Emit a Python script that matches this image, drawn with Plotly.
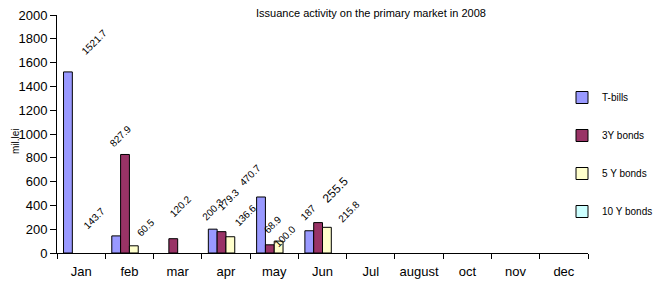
import plotly.graph_objects as go

# ---- data ----
months = ["Jan", "feb", "mar", "apr", "may", "Jun", "Jul", "august", "oct", "nov", "dec"]
series_names = ["T-bills", "3Y bonds", "5 Y bonds", "10 Y bonds"]
tbills = [1521.7, 143.7, None, 200.3, 470.7, 187, None, None, None, None, None]
bonds_3y = [None, 827.9, 120.2, 179.3, 68.9, 255.5, None, None, None, None, None]
bonds_5y = [None, 60.5, None, 136.6, 100.0, 215.8, None, None, None, None, None]
bonds_10y = [None, None, None, None, None, None, None, None, None, None, None]
tbills_text = ["1521.7", "143.7", None, "200.3", "470.7", "187", None, None, None, None, None]
bonds_3y_text = [None, "827.9", "120.2", "179.3", "68.9", "255.5", None, None, None, None, None]
bonds_5y_text = [None, "60.5", None, "136.6", "100.0", "215.8", None, None, None, None, None]
bonds_10y_text = [None] * 11
y_ticks = list(range(0, 2001, 200))

# ---- style ----
colors = ["#9999FF", "#993366", "#FFFFCC", "#CCFFFF"]
FONT = "Arial, Liberation Sans, sans-serif"
BARGAP = 0.27
OFF = 8  # default page body margin
W, H = 664 - OFF, 285 - OFF
# label offsets (pixels) relative to the top centre of each bar: (dx, dy-up, size)
label_style = {
    (0, 0): (27, 30, 10), (0, 1): (-22, 17, 10), (1, 1): (-5, 18, 10), (2, 1): (12, 18, 10),
    (1, 2): (7, 32, 10), (0, 3): (0, 20, 10), (1, 3): (7, 32, 10), (2, 3): (15, 21, 10),
    (0, 4): (-11, 21, 10), (1, 4): (3, 20, 10), (2, 4): (6, 5, 10),
    (0, 5): (-1, 18, 10), (1, 5): (17, 33, 12), (2, 5): (22, 16, 10),
}

values = [tbills, bonds_3y, bonds_5y, bonds_10y]
texts = [tbills_text, bonds_3y_text, bonds_5y_text, bonds_10y_text]

fig = go.Figure()
for i, (name, vals) in enumerate(zip(series_names, values)):
    fig.add_trace(go.Bar(
        x=months, y=vals, name=name, legendgroup=name,
        marker=dict(color=colors[i], line=dict(color="#000000", width=1)),
    ))

n = len(series_names)
bw = (1 - BARGAP) / n
annotations = []
for i in range(n):
    for j, (v, t) in enumerate(zip(values[i], texts[i])):
        if v is None or t is None:
            continue
        dx, dy, sz = label_style.get((i, j), (0, 15, 10))
        annotations.append(dict(
            x=j - (1 - BARGAP) / 2 + bw * (i + 0.5), y=v, xref="x", yref="y",
            text=t, showarrow=False, textangle=-45,
            xanchor="center", yanchor="middle", xshift=dx, yshift=dy,
            font=dict(family=FONT, size=sz, color="#000000"),
        ))

annotations.append(dict(
    text="mil.lei", xref="paper", yref="paper", x=(15 - 57) / 531, y=(253 - 141) / 238,
    showarrow=False, textangle=-90, xanchor="center", yanchor="middle",
    font=dict(family=FONT, size=10, color="#000000"),
))

fig.update_layout(
    width=W, height=H,
    margin=dict(l=57 - OFF, r=W - (588 - OFF), t=15 - OFF, b=H - (253 - OFF), autoexpand=False),
    paper_bgcolor="white", plot_bgcolor="white",
    barmode="group", bargap=BARGAP, bargroupgap=0,
    font=dict(family=FONT, size=13, color="#000000"),
    title=dict(text="Issuance activity on the primary market in 2008",
               x=(371 - OFF) / W, xanchor="center", xref="container",
               y=1 - (13 - OFF) / H, yanchor="middle", yref="container",
               font=dict(family=FONT, size=11, color="#000000")),
    showlegend=True,
    legend=dict(x=(562 - OFF) / W, xanchor="left", xref="container",
                y=1 - (83 - OFF) / H, yanchor="top", yref="container",
                font=dict(family=FONT, size=10, color="#000000"),
                tracegroupgap=19, itemwidth=30, bgcolor="rgba(0,0,0,0)",
                traceorder="grouped"),
    annotations=annotations,
)
fig.update_xaxes(
    type="category", range=[-0.5, len(months) - 0.5], automargin=False,
    showline=True, linecolor="#000000", linewidth=1, tickangle=0,
    ticks="outside", tickson="boundaries", ticklen=5, tickcolor="#000000",
    showgrid=False, zeroline=False, ticklabelstandoff=6, ticklabeloverflow="allow",
    tickfont=dict(family=FONT, size=13, color="#000000"),
)
fig.update_yaxes(
    range=[0, 2000], tickvals=y_ticks, automargin=False,
    showline=True, linecolor="#000000", linewidth=1,
    ticks="outside", ticklen=6, tickcolor="#000000",
    showgrid=False, zeroline=False, ticklabeloverflow="allow",
    tickfont=dict(family=FONT, size=13, color="#000000"),
)

fig.write_html("out.html")
